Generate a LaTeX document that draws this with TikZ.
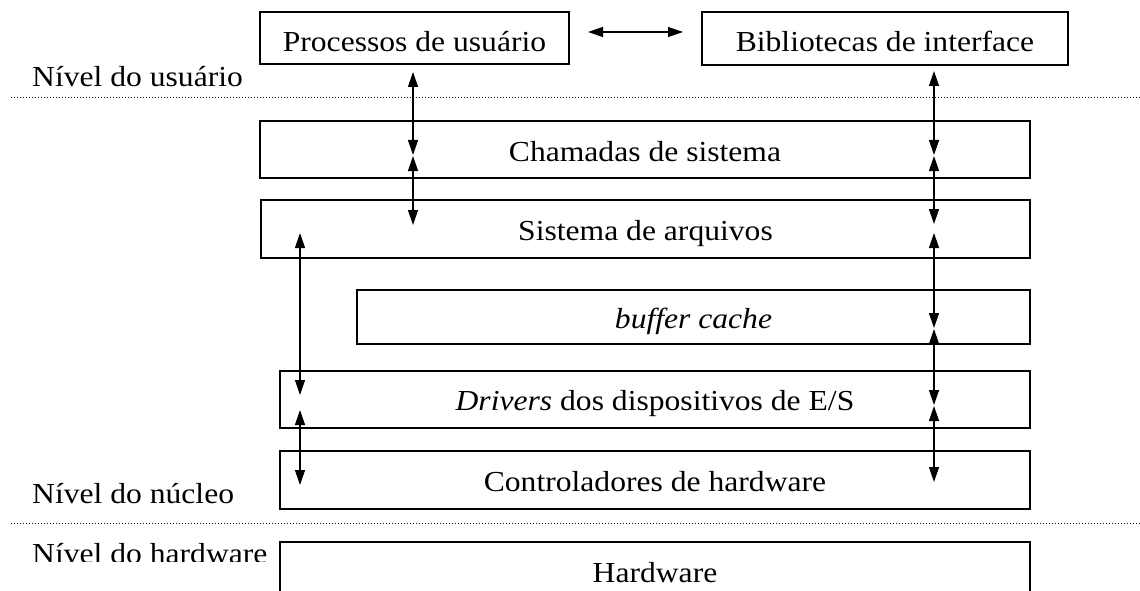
\documentclass[tikz,border=0pt]{standalone}
\usepackage{fontspec}
\setmainfont{Liberation Serif}[FakeStretch=1.09]
\usetikzlibrary{arrows.meta}
\begin{document}
\begin{tikzpicture}[x=1pt,y=-1pt,
  box/.style={draw, line width=1.4pt, inner sep=0pt, font=\fontsize{29}{34}\selectfont,
              text height=22pt, text depth=0pt, align=center},
  lvl/.style={anchor=base west, inner sep=0pt, font=\fontsize{29}{34}\selectfont},
  link/.style={line width=1.3pt, {Triangle[length=15pt,width=10pt]}-{Triangle[length=15pt,width=10pt]}},
  sep/.style={line width=1pt, dash pattern=on 1pt off 2pt}]
\fill[white] (0,0) rectangle (1140,591);
\useasboundingbox (0,0) rectangle (1140,591);
\clip (0,0) rectangle (1140,591);

% boxes
\node[box, text height=27pt, minimum width=309pt, minimum height=52pt] (proc) at (414.5,38) {Processos de usuário};
\node[box, text height=27pt, minimum width=366pt, minimum height=53pt] (bib) at (885,38.5) {Bibliotecas de interface};
\node[box, text height=24pt, minimum width=770pt, minimum height=57pt] (cham) at (645,149.5) {Chamadas de sistema};
\node[box, minimum width=769pt, minimum height=58pt] (sist) at (645.5,229) {Sistema de arquivos};
\node[box, minimum width=673pt, minimum height=54pt] (buf) at (693.5,317) {\itshape buffer cache};
\node[box, minimum width=750pt, minimum height=57pt] (drv) at (655,399.5) {\textit{Drivers} dos dispositivos de E/S};
\node[box, minimum width=750pt, minimum height=58pt] (ctrl) at (655,480) {Controladores de hardware};
\node[box, minimum width=750pt, minimum height=58pt] (hw) at (655,571) {Hardware};

% level labels
\node[lvl] (lu) at (32,87) {Nível do usuário};
\node[lvl] (ln) at (32,503) {Nível do núcleo};
\begin{scope}
\clip (0,530) rectangle (279,561);
\node[lvl] (lh) at (32,563) {Nível do hardware};
\end{scope}

% separators
\coordinate (s1a) at (11,98);  \coordinate (s1b) at (1140,98);
\coordinate (s2a) at (11,523); \coordinate (s2b) at (1140,523);
\draw[sep] (s1a) -- (s1b);
\draw[sep] (s2a) -- (s2b);

% connector end points
\coordinate (h1) at (588,32);  \coordinate (h2) at (683,32);
\coordinate (a0) at (413,72);  \coordinate (a1) at (413,155);
\coordinate (a2) at (413,156); \coordinate (a3) at (413,225);
\coordinate (b0) at (300,233); \coordinate (b1) at (300,395);
\coordinate (b2) at (300,410); \coordinate (b3) at (300,485);
\coordinate (c0) at (934,71);  \coordinate (c1) at (934,155);
\coordinate (c2) at (934,156); \coordinate (c3) at (934,224);
\coordinate (c4) at (934,233); \coordinate (c5) at (934,328);
\coordinate (c6) at (934,329); \coordinate (c7) at (934,405);
\coordinate (c8) at (934,406); \coordinate (c9) at (934,482);

\draw[link] (h1) -- (h2);
\draw[link] (a0) -- (a1);
\draw[link] (a2) -- (a3);
\draw[link] (b0) -- (b1);
\draw[link] (b2) -- (b3);
\draw[link] (c0) -- (c1);
\draw[link] (c2) -- (c3);
\draw[link] (c4) -- (c5);
\draw[link] (c6) -- (c7);
\draw[link] (c8) -- (c9);
\end{tikzpicture}
\end{document}
